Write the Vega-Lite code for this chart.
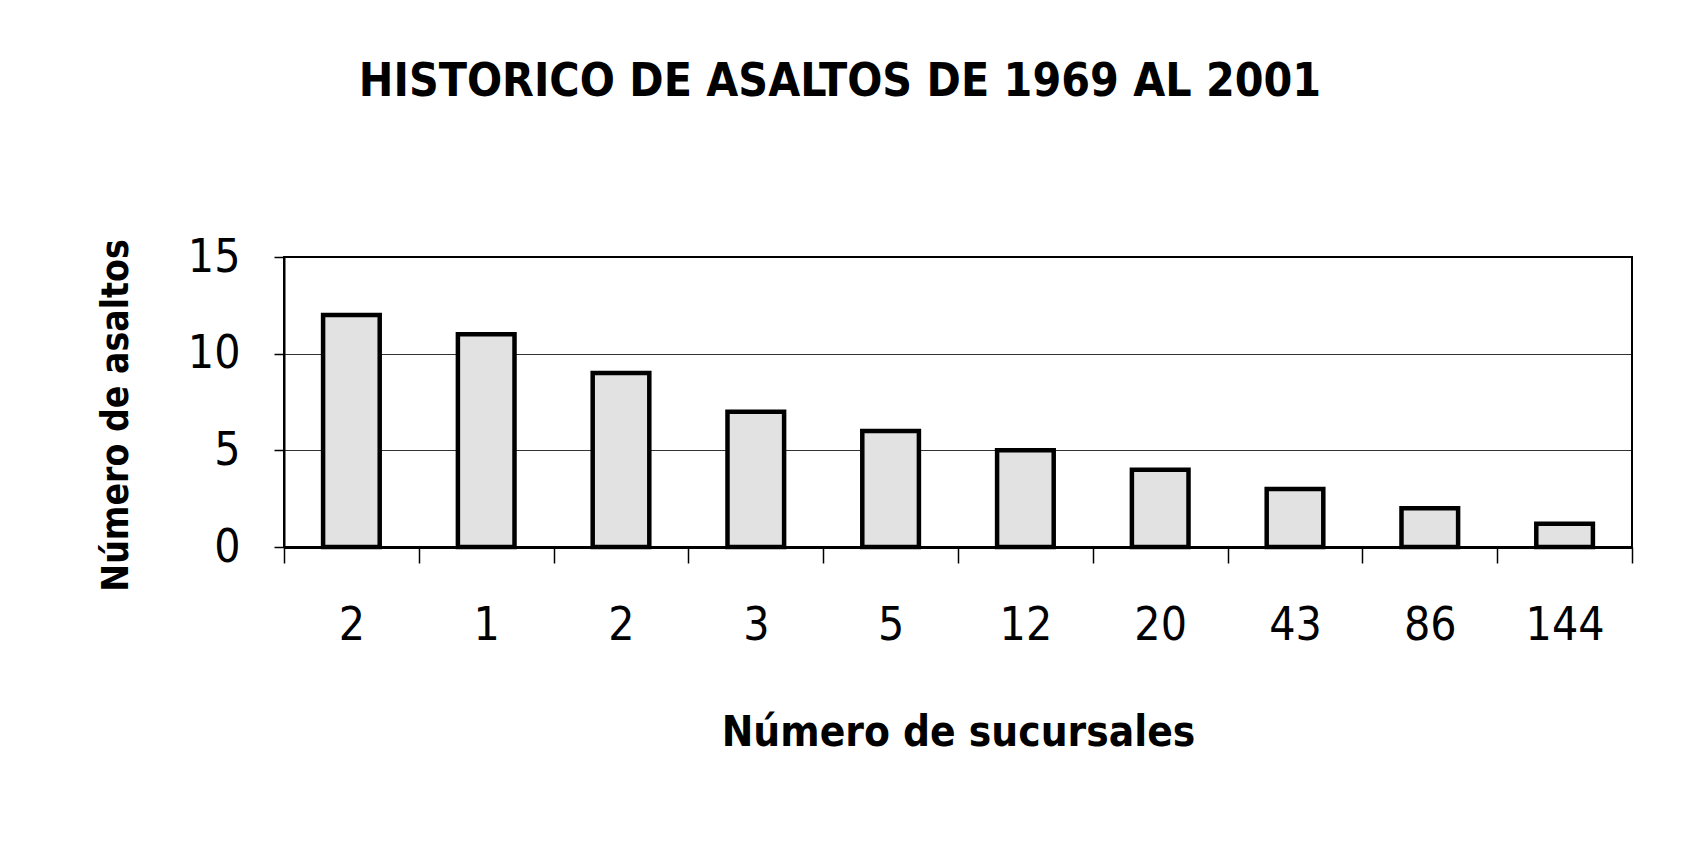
{
  "$schema": "https://vega.github.io/schema/vega-lite/v6.json",
  "autosize": "none",
  "width": 1348,
  "height": 290,
  "padding": {"left": 284, "top": 257, "right": 49, "bottom": 300},
  "background": "white",
  "config": {
    "font": "'Liberation Sans Narrow', 'DejaVu Sans Condensed', 'Liberation Sans', Arial, sans-serif",
    "view": {"stroke": "black", "strokeWidth": 2}
  },
  "title": {
    "text": "HISTORICO DE ASALTOS DE 1969 AL 2001",
    "fontSize": 46,
    "fontWeight": "bold",
    "color": "black",
    "anchor": "middle",
    "dx": -118,
    "offset": 128
  },
  "data": {
    "values": [
      {"clave": "1|2", "orden": 1, "sucursales": 2, "asaltos": 12},
      {"clave": "2|1", "orden": 2, "sucursales": 1, "asaltos": 11},
      {"clave": "3|2", "orden": 3, "sucursales": 2, "asaltos": 9},
      {"clave": "4|3", "orden": 4, "sucursales": 3, "asaltos": 7},
      {"clave": "5|5", "orden": 5, "sucursales": 5, "asaltos": 6},
      {"clave": "6|12", "orden": 6, "sucursales": 12, "asaltos": 5},
      {"clave": "7|20", "orden": 7, "sucursales": 20, "asaltos": 4},
      {"clave": "8|43", "orden": 8, "sucursales": 43, "asaltos": 3},
      {"clave": "9|86", "orden": 9, "sucursales": 86, "asaltos": 2},
      {"clave": "10|144", "orden": 10, "sucursales": 144, "asaltos": 1.2}
    ]
  },
  "mark": {"type": "bar", "fill": "#e2e2e2", "stroke": "black", "strokeWidth": 4.5, "width": {"band": 0.42}},
  "encoding": {
    "x": {
      "field": "clave",
      "type": "nominal",
      "sort": {"field": "orden", "order": "ascending"},
      "scale": {"paddingInner": 0, "paddingOuter": 0},
      "axis": {
        "title": "Número de sucursales",
        "titleFontSize": 42,
        "titleFontWeight": "bold",
        "titleColor": "black",
        "titlePadding": 64,
        "labelExpr": "split(datum.value, '|')[1]",
        "labelAngle": 0,
        "labelFontSize": 46,
        "labelColor": "black",
        "labelPadding": 40,
        "tickBand": "extent",
        "tickSize": 16,
        "tickColor": "black",
        "tickWidth": 1.5,
        "domainColor": "black",
        "domainWidth": 3
      }
    },
    "y": {
      "field": "asaltos",
      "type": "quantitative",
      "scale": {"domain": [0, 15], "nice": false},
      "axis": {
        "title": "Número de asaltos",
        "titleFontSize": 37,
        "titleFontWeight": "bold",
        "titleColor": "black",
        "titlePadding": 52,
        "titleY": 158,
        "values": [0, 5, 10, 15],
        "labelFontSize": 46,
        "labelColor": "black",
        "labelPadding": 34,
        "tickSize": 10,
        "tickColor": "black",
        "tickWidth": 1.5,
        "domainColor": "black",
        "domainWidth": 2,
        "grid": true,
        "gridColor": "black",
        "gridWidth": 1,
        "gridOpacity": 0.8
      }
    }
  }
}
